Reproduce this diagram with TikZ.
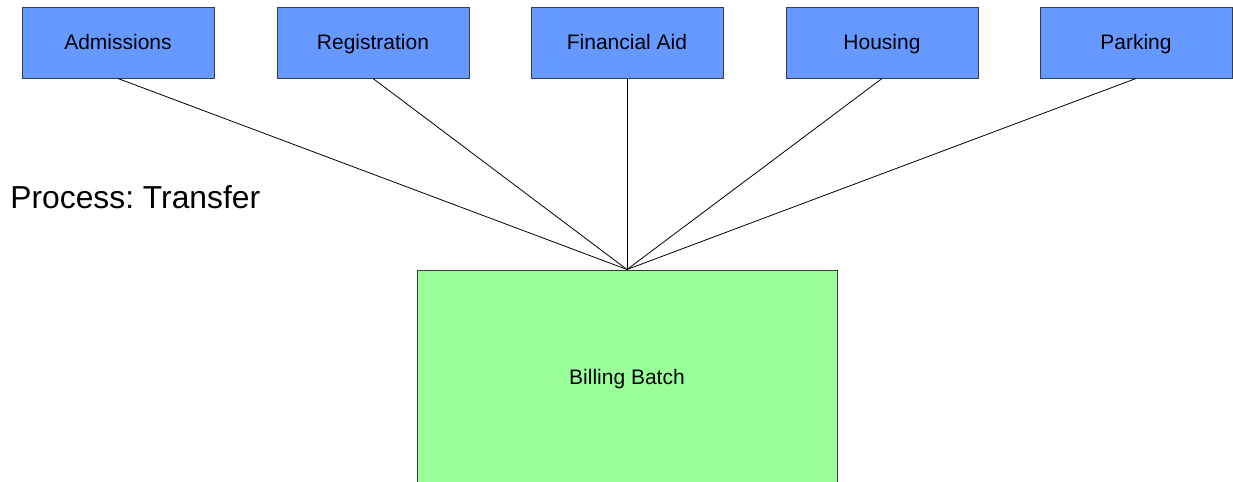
\documentclass[tikz,border=0pt]{standalone}
\usepackage{fontspec}
\setmainfont{Liberation Sans}
\usetikzlibrary{positioning}
\definecolor{deptblue}{RGB}{102,153,255}
\definecolor{batchgreen}{RGB}{153,255,153}
\definecolor{edgegray}{RGB}{60,60,60}
\frenchspacing

\begin{document}
\begin{tikzpicture}[x=0.5pt,y=-0.5pt,
  dept/.style={draw=edgegray,line width=0.5pt,fill=deptblue,align=center,
               font=\fontsize{10.5}{12}\selectfont,text height=8.6pt,text depth=1.2pt,
               minimum width=96pt,minimum height=35.5pt,inner sep=0pt},
  batch/.style={draw=edgegray,line width=0.5pt,fill=batchgreen,align=center,
                font=\fontsize{10.5}{12}\selectfont,text height=8.6pt,text depth=1.2pt,
                minimum width=210pt,minimum height=107pt,inner sep=0pt},
  link/.style={line width=0.4pt,color=black}]
  \useasboundingbox (0,0) rectangle (1233,482);
  \node[dept] (adm) at (118,42.5)  {Admissions};
  \node[dept] (reg) at (373,42.5)  {Registration};
  \node[dept] (aid) at (627,42.5)  {Financial Aid};
  \node[dept] (hou) at (882,42.5)  {Housing};
  \node[dept] (par) at (1136,42.5) {Parking};
  \node[batch] (bill) at (627,377) {Billing Batch};
  \node[anchor=west,font=\fontsize{15.9}{18}\selectfont,inner sep=0pt] (proc) at (10,197) {Process: Transfer};
  \draw[link] (adm.south)--(bill.north);
  \draw[link] (reg.south)--(bill.north);
  \draw[link] (aid.south)--(bill.north);
  \draw[link] (hou.south)--(bill.north);
  \draw[link] (par.south)--(bill.north);
\end{tikzpicture}
\end{document}
